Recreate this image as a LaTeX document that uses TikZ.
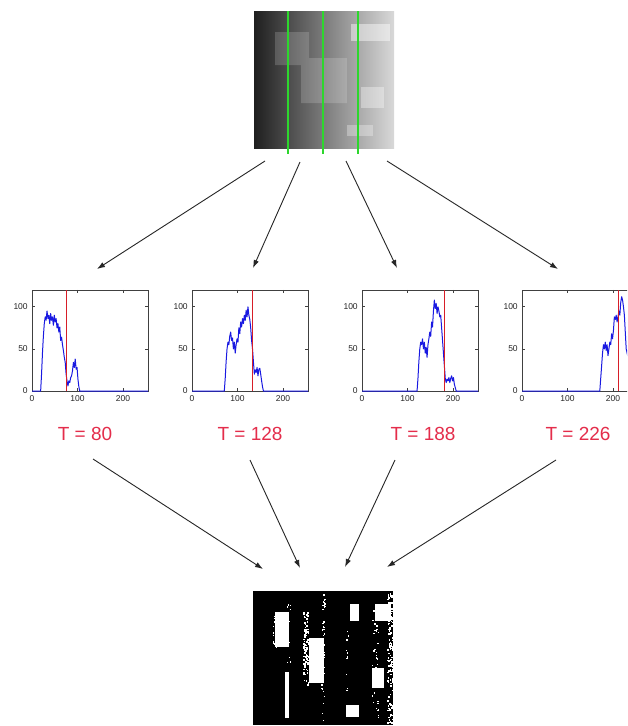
\documentclass[tikz,border=0pt]{standalone}
\usepackage{fontspec}
\setmainfont{Liberation Sans}
\usetikzlibrary{arrows.meta}
\definecolor{tred}{RGB}{228,45,75}
\definecolor{hblue}{RGB}{25,25,225}
\definecolor{hred}{RGB}{215,30,40}
\definecolor{gline}{RGB}{45,215,45}
\tikzset{
  arr/.style={draw=black!85, line width=0.9pt, -{Latex[length=8pt,width=5.5pt]}},
  axisline/.style={draw=black!75, line width=0.7pt},
  ticklbl/.style={font=\fontsize{8.5}{9}\selectfont, inner sep=0pt, text=black!85},
  tlabel/.style={font=\fontsize{19}{22}\selectfont, text=tred, inner sep=0pt},
  histline/.style={draw=hblue, line width=1pt, line join=round},
  thrline/.style={draw=hred, line width=1.1pt},
  greenline/.style={draw=gline, line width=1.3pt},
}
\newcommand{\histpanel}[4]{%
\begin{scope}[shift={(#1,391)}, x=0.455pt, y=0.842pt]
  \node[inner sep=0pt, minimum width=116pt, minimum height=101pt, anchor=south west] (#2) at (0,0) {};
  \draw[axisline] (0,0) rectangle (255,120);
  \foreach \t in {100,200} {
    \draw[axisline] (\t,0) -- ++(0,3.5);
    \draw[axisline] (\t,120) -- ++(0,-3.5);
    \node[ticklbl, anchor=north] (#2-x\t) at (\t,-5) {\t};
  }
  \node[ticklbl, anchor=north] (#2-x0) at (0,-5) {0};
  \foreach \t in {50,100} {
    \draw[axisline] (0,\t) -- ++(6,0);
    \draw[axisline] (255,\t) -- ++(-6,0);
    \node[ticklbl, anchor=east] (#2-y\t) at (-9,\t) {\t};
  }
  \node[ticklbl, anchor=east] (#2-y0) at (-9,0) {0};
  \draw[histline] plot coordinates {#4};
  \draw[thrline] (#3,0) -- (#3,120);
\end{scope}}
\begin{document}
\begin{tikzpicture}[x=1pt,y=-1pt]
\clip (0,0) rectangle (627,726);
\fill[white] (0,0) rectangle (627,726);

% ---------- top image ----------
\node[inner sep=0pt, minimum width=140pt, minimum height=137pt, anchor=north west] (top) at (254,11) {};
\shade[left color={black!88}, right color={black!15}] (254,11) rectangle (394,148);
\fill[white, opacity=0.17] (275,32) rectangle (309,65) (301,58) rectangle (347,103);
\fill[white, opacity=0.45] (351,24) rectangle (390,41);
\fill[white, opacity=0.35] (361,87) rectangle (384,108);
\fill[white, opacity=0.3] (347,125) rectangle (373,136);
\draw[greenline] (288,11) -- (288,154);
\draw[greenline] (323,11) -- (323,154);
\draw[greenline] (358,11) -- (358,154);

% ---------- histograms ----------
\histpanel{32}{h1}{75}{(0,0) (19,0) (21,20) (23,45) (25,65) (27,80) (29,88) (31,84) (33,95) (35,86) (37,90) (39,80) (41,92) (43,84) (45,88) (47,78) (49,90) (51,82) (53,86) (55,75) (57,80) (59,70) (61,76) (63,60) (65,64) (67,55) (69,48) (71,40) (73,34) (75,20) (77,12) (79,6) (81,12) (83,10) (85,16) (87,18) (89,24) (91,34) (93,28) (95,38) (97,26) (99,28) (101,14) (103,5) (105,0) (255,0)}
\histpanel{192}{h2}{133}{(0,0) (71,0) (73,15) (75,35) (77,50) (79,58) (81,55) (83,65) (85,70) (87,60) (89,63) (91,50) (93,58) (95,45) (97,55) (99,62) (101,58) (103,75) (105,68) (107,82) (109,76) (111,86) (113,80) (115,90) (117,84) (119,96) (121,88) (123,100) (125,90) (127,85) (129,75) (131,60) (133,50) (135,35) (137,20) (139,25) (141,22) (143,28) (145,18) (147,26) (149,27) (151,20) (153,12) (155,5) (157,0) (255,0)}
\histpanel{362}{h3}{182}{(0,0) (121,0) (123,15) (125,35) (127,50) (129,58) (131,55) (133,62) (135,50) (137,58) (139,45) (141,52) (143,40) (145,55) (147,62) (149,70) (151,65) (153,82) (155,76) (157,95) (159,108) (161,98) (163,104) (165,92) (167,100) (169,95) (171,88) (173,90) (175,75) (177,60) (179,45) (181,30) (183,15) (185,10) (187,14) (189,12) (191,16) (193,10) (195,15) (197,18) (199,12) (201,16) (203,8) (205,4) (207,0) (255,0)}
\histpanel{522}{h4}{213}{(0,0) (171,0) (173,15) (175,30) (177,45) (179,55) (181,50) (183,58) (185,48) (187,55) (189,42) (191,50) (193,58) (195,55) (197,68) (199,62) (201,72) (203,88) (205,85) (207,90) (209,82) (211,88) (213,95) (215,90) (217,105) (219,112) (221,108) (223,100) (225,90) (227,70) (229,50) (231,45) (233,40) (235,30) (237,20) (239,10) (241,0) (255,0)}

% ---------- threshold labels ----------
\node[tlabel] (t1) at (85,434) {T = 80};
\node[tlabel] (t2) at (250,434) {T = 128};
\node[tlabel] (t3) at (423,434) {T = 188};
\node[tlabel] (t4) at (578,434) {T = 226};

% ---------- bottom image ----------
\node[inner sep=0pt, minimum width=140pt, minimum height=134pt, anchor=north west] (bot) at (253,591) {};
\fill[black] (253,591) rectangle (393,725);
\fill[white] (275,612) rectangle (289,647);
\fill[white] (309,638) rectangle (324,683);
\fill[white] (350,604) rectangle (359,621);
\fill[white] (375,604) rectangle (391,621);
\fill[white] (372,668) rectangle (384,688);
\fill[white] (346,705) rectangle (359,717);
\fill[white] (285,672) rectangle (289,718);
\pgfmathsetseed{11}
\foreach \i in {1,...,90} {\fill[white] ({303+5*rnd},{612+74*rnd}) rectangle ++(1.5,1.5);}
\foreach \i in {1,...,140} {\fill[white] ({387+6*rnd},{593+130*rnd}) rectangle ++(1.5,1.5);}
\foreach \i in {1,...,35} {\fill[white] ({321+3*rnd},{592+132*rnd}) rectangle ++(1.4,1.4);}
\foreach \i in {1,...,40} {\fill[white] ({372+6*rnd},{605+115*rnd}) rectangle ++(1.4,1.4);}
\foreach \i in {1,...,14} {\fill[white] ({287+3*rnd},{600+62*rnd}) rectangle ++(1.4,1.4);}
\foreach \i in {1,...,10} {\fill[white] ({345+3*rnd},{630+60*rnd}) rectangle ++(1.4,1.4);}
\foreach \i in {1,...,18} {\fill[white] ({272+4*rnd},{612+35*rnd}) rectangle ++(1.4,1.4);}
\foreach \i in {1,...,12} {\fill[white] ({322+3*rnd},{598+12*rnd}) rectangle ++(1.4,1.4);}

% ---------- arrows ----------
\coordinate (s1) at (265,161); \coordinate (e1) at (97,269);
\coordinate (s2) at (300,162); \coordinate (e2) at (253,268);
\coordinate (s3) at (346,161); \coordinate (e3) at (397,268);
\coordinate (s4) at (387,161); \coordinate (e4) at (558,269);
\coordinate (u1) at (93,459);  \coordinate (v1) at (263,569);
\coordinate (u2) at (250,460); \coordinate (v2) at (300,568);
\coordinate (u3) at (395,460); \coordinate (v3) at (345,567);
\coordinate (u4) at (556,460); \coordinate (v4) at (387,567);
\foreach \a/\b in {s1/e1,s2/e2,s3/e3,s4/e4,u1/v1,u2/v2,u3/v3,u4/v4} {\draw[arr] (\a) -- (\b);}
\end{tikzpicture}
\end{document}
